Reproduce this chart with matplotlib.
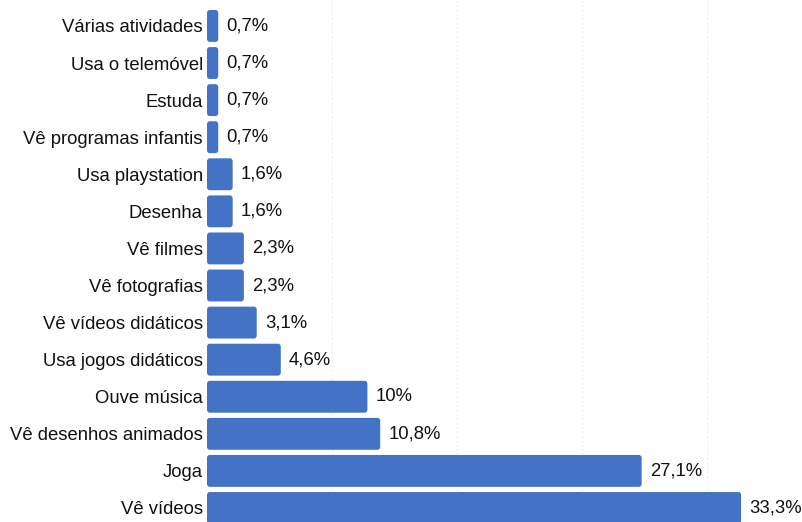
import matplotlib
matplotlib.use("Agg")
import matplotlib.pyplot as plt
from matplotlib.patches import FancyBboxPatch

categories = ["Várias atividades", "Usa o telemóvel", "Estuda", "Vê programas infantis",
              "Usa playstation", "Desenha", "Vê filmes", "Vê fotografias",
              "Vê vídeos didáticos", "Usa jogos didáticos", "Ouve música",
              "Vê desenhos animados", "Joga", "Vê vídeos"]
values = [0.7, 0.7, 0.7, 0.7, 1.6, 1.6, 2.3, 2.3, 3.1, 4.6, 10, 10.8, 27.1, 33.3]
labels = ["0,7%", "0,7%", "0,7%", "0,7%", "1,6%", "1,6%", "2,3%", "2,3%", "3,1%",
          "4,6%", "10%", "10,8%", "27,1%", "33,3%"]

plt.rcParams['font.family'] = ['Liberation Sans', 'DejaVu Sans']
color = "#4472C4"

fig = plt.figure(figsize=(8.03, 5.22), dpi=100)
ax = fig.add_axes([207/803, 0, 1 - 207/803, 1])

y = list(range(len(categories)))
bars = ax.barh(y, values, height=0.86, color=color)
for b in bars:
    x0, y0 = b.get_x(), b.get_y()
    w, h = b.get_width(), b.get_height()
    b.set_visible(False)
    p = FancyBboxPatch((x0, y0), w, h, boxstyle="round,pad=0,rounding_size=0.17",
                       mutation_aspect=0.08 / 0.17, facecolor=color, edgecolor="none")
    ax.add_patch(p)

for yi, v, lab in zip(y, values, labels):
    ax.annotate(lab, (v, yi), xytext=(6, 0), textcoords="offset points",
                ha="left", va="center", fontsize=13.3, color="#111111")

ax.set_xlim(0, 37.16)
ax.set_ylim(13.378, -0.70)
ax.set_yticks(y)
ax.set_yticklabels(categories, fontsize=13.3, color="#111111")
ax.tick_params(axis='y', length=0, pad=3)
ax.set_xticks([7.79 * k for k in range(1, 5)])
ax.tick_params(axis='x', length=0, labelbottom=False)
ax.grid(axis='x', color="#ececec", linestyle=(0, (2, 2)), linewidth=0.8)
ax.set_axisbelow(True)
for s in ax.spines.values():
    s.set_visible(False)

fig.savefig("out.png", dpi=100)
